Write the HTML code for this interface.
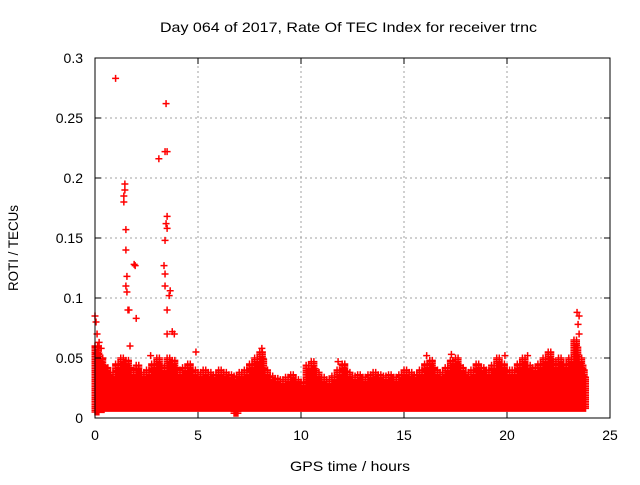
<!DOCTYPE html>
<html><head><meta charset="utf-8"><style>
body{margin:0;background:#fff}
svg text{font-family:"Liberation Sans",sans-serif;font-size:14px;fill:#000}
</style></head><body>
<svg id="chart" width="640" height="480" xmlns="http://www.w3.org/2000/svg">
<text x="160" y="32" textLength="377" lengthAdjust="spacingAndGlyphs">Day 064 of 2017, Rate Of TEC Index for receiver trnc</text>
<text x="290" y="471" textLength="120" lengthAdjust="spacingAndGlyphs">GPS time / hours</text>
<text transform="translate(18,291) rotate(-90)" textLength="86" lengthAdjust="spacingAndGlyphs">ROTI / TECUs</text>
<g id="grid"></g>
<g id="marks"></g>
<g id="axes"></g>
</svg>
<script>
const xTicks=[0,5,10,15,20,25];
const yTicks=[0,0.05,0.1,0.15,0.2,0.25,0.3];
const yTickLabels=["0","0.05","0.1","0.15","0.2","0.25","0.3"];
const bandLow=[0.005,0.007,0.008,0.008,0.008,0.008,0.008,0.008,0.008,0.008,0.008,0.008,0.008,0.008,0.008,0.008,0.008,0.008,0.008,0.008,0.008,0.008,0.008,0.008,0.008,0.008,0.008,0.004,0.008,0.008,0.008,0.008,0.008,0.008,0.008,0.008,0.008,0.008,0.008,0.008,0.008,0.008,0.008,0.008,0.008,0.008,0.008,0.008,0.008,0.008,0.008,0.008,0.008,0.008,0.008,0.008,0.008,0.008,0.008,0.008,0.008,0.008,0.008,0.008,0.008,0.008,0.008,0.008,0.008,0.008,0.008,0.008,0.008,0.008,0.008,0.008,0.008,0.008,0.008,0.008,0.008,0.008,0.008,0.008,0.008,0.008,0.008,0.008,0.008,0.008,0.008,0.008,0.008,0.008,0.008,0.008];
const bandHigh=[0.06,0.05,0.042,0.038,0.045,0.05,0.048,0.04,0.044,0.038,0.04,0.045,0.05,0.042,0.05,0.048,0.04,0.042,0.045,0.04,0.038,0.04,0.038,0.036,0.04,0.038,0.036,0.035,0.038,0.04,0.045,0.05,0.055,0.04,0.035,0.033,0.032,0.034,0.036,0.032,0.03,0.044,0.047,0.038,0.034,0.032,0.035,0.04,0.045,0.038,0.035,0.036,0.034,0.036,0.038,0.036,0.035,0.036,0.034,0.036,0.04,0.038,0.036,0.04,0.045,0.048,0.04,0.038,0.042,0.048,0.05,0.042,0.038,0.04,0.045,0.042,0.04,0.044,0.05,0.045,0.04,0.04,0.045,0.05,0.044,0.042,0.045,0.05,0.055,0.045,0.05,0.045,0.05,0.065,0.05,0.04];
const outX=[1.0,3.45,3.1,3.4,3.5,1.45,1.45,1.4,1.4,1.5,1.5,1.55,1.5,1.55,1.6,1.65,1.9,1.95,2.0,3.5,3.45,3.5,3.4,3.35,3.4,3.4,3.65,3.6,3.5,3.5,3.75,3.85,0.0,0.05,0.1,1.7,4.9,8.1,11.8,23.4,23.5,23.45,23.5,0.2,0.3,2.7,16.1,17.3,19.9,21.0];
const outY=[0.283,0.262,0.216,0.222,0.222,0.195,0.19,0.185,0.18,0.157,0.14,0.118,0.11,0.105,0.09,0.09,0.128,0.127,0.083,0.168,0.162,0.158,0.148,0.127,0.12,0.11,0.106,0.102,0.09,0.07,0.072,0.07,0.085,0.08,0.07,0.06,0.055,0.058,0.047,0.088,0.085,0.078,0.07,0.063,0.058,0.052,0.052,0.053,0.052,0.052];
const X0=95,X1=610,Y0=418,Y1=58;
const xs=v=>X0+(v-0)/25*(X1-X0);
const ys=v=>Y0-(v-0)/0.3*(Y0-Y1);
const NS="http://www.w3.org/2000/svg";
function mk(tag,at,parent){const e=document.createElementNS(NS,tag);for(const k in at)e.setAttribute(k,at[k]);parent.appendChild(e);return e;}
const grid=document.getElementById('grid'),axes=document.getElementById('axes'),marks=document.getElementById('marks');
xTicks.forEach(t=>{
 if(t>0&&t<25){const l=mk('line',{x1:xs(t),x2:xs(t),y1:Y0,y2:Y1,stroke:'#a0a0a0','stroke-dasharray':'2,3'},grid);
 }
 const tx=mk('text',{x:xs(t),y:Y0+22,'text-anchor':'middle'},axes);tx.textContent=t;
 
 mk('line',{x1:xs(t),x2:xs(t),y1:Y0,y2:Y0-6,stroke:'#000'},axes);
 mk('line',{x1:xs(t),x2:xs(t),y1:Y1,y2:Y1+6,stroke:'#000'},axes);
});
yTicks.forEach((t,i)=>{
 if(i>0&&i<yTicks.length-1){const l=mk('line',{x1:X0,x2:X1,y1:ys(t),y2:ys(t),stroke:'#a0a0a0','stroke-dasharray':'2,3'},grid);
 }
 const tx=mk('text',{x:X0-12,y:ys(t)+5,'text-anchor':'end'},axes);tx.textContent=yTickLabels[i];
 
 mk('line',{x1:X0,x2:X0+6,y1:ys(t),y2:ys(t),stroke:'#000'},axes);
 mk('line',{x1:X1,x2:X1-6,y1:ys(t),y2:ys(t),stroke:'#000'},axes);
});
const fr=mk('rect',{x:X0,y:Y1,width:X1-X0,height:Y0-Y1,fill:'none',stroke:'#000'},axes);

let d='';
function cross(x,y){const px=xs(x),py=ys(y);d+=`M${px-3.5},${py}h7M${px},${py-3.5}v7`;}
bandHigh.forEach((h,i)=>{const lo=bandLow[i];
 for(let s=0;s<4;s++){const t=i*0.25+s*0.0625;if(t>23.85)continue;
  const hh=h-(s%2)*0.006;
  for(let v=lo;v<=hh;v+=0.0015)cross(t,v);cross(t,hh);}
});
outX.forEach((x,i)=>cross(x,outY[i]));
const p=mk('path',{d:d,stroke:'#ff0000','stroke-width':1.5,fill:'none'},marks);

</script>
</body></html>
